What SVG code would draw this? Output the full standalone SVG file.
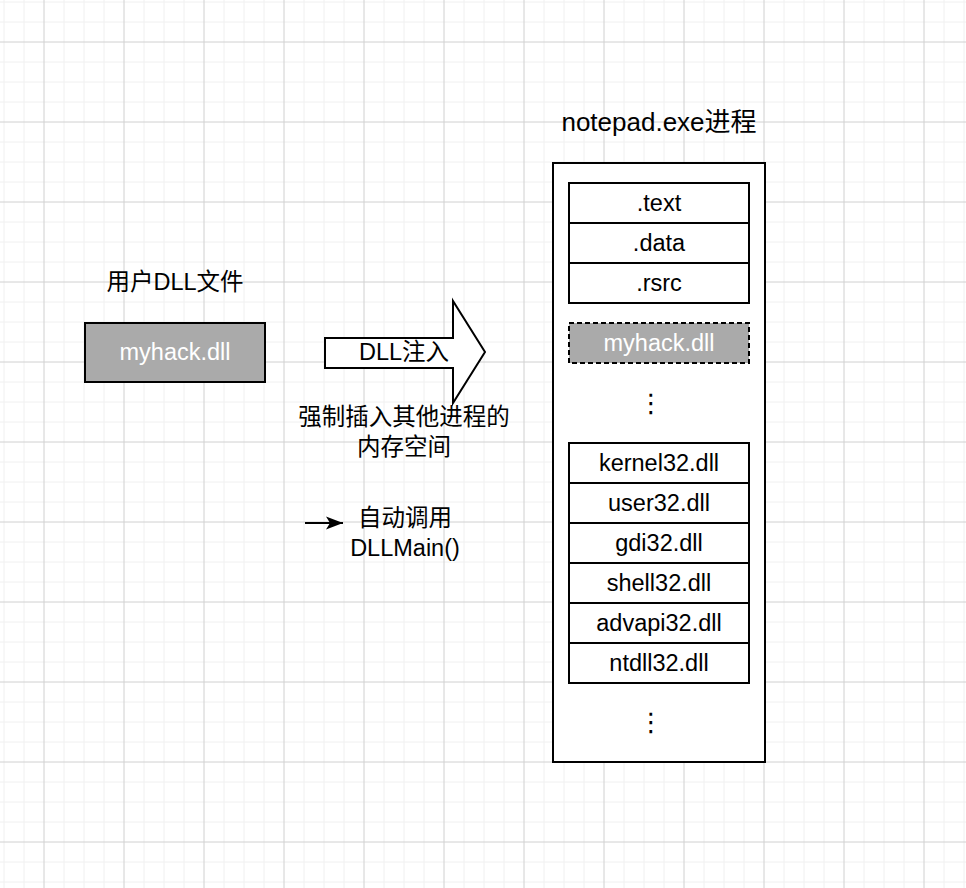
<svg xmlns="http://www.w3.org/2000/svg" width="966" height="888" viewBox="0 0 966 888">
<defs>
  <pattern id="grid" patternUnits="userSpaceOnUse" x="-6" y="-8" width="80" height="80">
    <path d="M10 0V80M30 0V80M70 0V80M0 10H80M0 30H80M0 70H80" stroke="#f0f0f0" stroke-width="1" fill="none"/>
    <path d="M50 0V80M0 50H80" stroke="#d0d0d0" stroke-width="1" fill="none"/>
  </pattern>
  <marker id="arr" viewBox="0 0 18 14" refX="17" refY="7" markerWidth="18" markerHeight="14" markerUnits="userSpaceOnUse" orient="auto">
    <path d="M0 0.5L17 7L0 13.5L4 7Z" fill="#000"/>
  </marker>
  <style>
    text{font-family:"Liberation Sans","Noto Sans CJK SC",sans-serif;font-size:23.5px;fill:#000;text-anchor:middle;dominant-baseline:central}
    .w{fill:#fff}
    .big{font-size:26px}
    .box{fill:#fff;stroke:#000;stroke-width:2}
    .gray{fill:#aaaaaa;stroke:#000;stroke-width:2}
    .dash{fill:#aaaaaa;stroke:#000;stroke-width:2;stroke-dasharray:5 3}
    .dots{font-family:"DejaVu Sans",sans-serif;font-size:26px}
  </style>
</defs>
<rect width="966" height="888" fill="#fff"/>
<rect width="966" height="888" fill="url(#grid)"/>

<g id="user-dll-label"><text x="175" y="282">用户DLL文件</text></g>
<g id="user-dll">
  <rect class="gray" x="85" y="323" width="180" height="59"/>
  <text class="w" x="175" y="352">myhack.dll</text>
</g>

<g id="inject-arrow">
  <path d="M325 338H453V301L485 352L453 403V368H325Z" fill="#fff" stroke="#000" stroke-width="2" stroke-linejoin="miter"/>
  <text x="404" y="352">DLL注入</text>
</g>
<g id="inject-desc">
  <text x="404" y="417">强制插入其他进程的</text>
  <text x="404" y="447">内存空间</text>
</g>

<g id="connectors">
  <line x1="305" y1="523" x2="343" y2="523" stroke="#000" stroke-width="2" marker-end="url(#arr)"/>
</g>
<g id="auto-call">
  <text x="405" y="518">自动调用</text>
  <text x="405" y="548">DLLMain()</text>
</g>

<g id="process-label"><text class="big" x="659" y="122">notepad.exe进程</text></g>
<g id="process">
  <rect class="box" x="553" y="163" width="212" height="599"/>
</g>
<g id="sec-text"><rect class="box" x="569" y="183" width="180" height="40"/><text x="659" y="203">.text</text></g>
<g id="sec-data"><rect class="box" x="569" y="223" width="180" height="40"/><text x="659" y="243">.data</text></g>
<g id="sec-rsrc"><rect class="box" x="569" y="263" width="180" height="40"/><text x="659" y="283">.rsrc</text></g>
<g id="injected-dll"><rect class="dash" x="569" y="323" width="180" height="40"/><text class="w" x="659" y="343">myhack.dll</text></g>
<g id="dots1"><text class="dots" x="651" y="403">⋮</text></g>
<g id="dll-kernel32"><rect class="box" x="569" y="443" width="180" height="40"/><text x="659" y="463">kernel32.dll</text></g>
<g id="dll-user32"><rect class="box" x="569" y="483" width="180" height="40"/><text x="659" y="503">user32.dll</text></g>
<g id="dll-gdi32"><rect class="box" x="569" y="523" width="180" height="40"/><text x="659" y="543">gdi32.dll</text></g>
<g id="dll-shell32"><rect class="box" x="569" y="563" width="180" height="40"/><text x="659" y="583">shell32.dll</text></g>
<g id="dll-advapi32"><rect class="box" x="569" y="603" width="180" height="40"/><text x="659" y="623">advapi32.dll</text></g>
<g id="dll-ntdll32"><rect class="box" x="569" y="643" width="180" height="40"/><text x="659" y="663">ntdll32.dll</text></g>
<g id="dots2"><text class="dots" x="651" y="722">⋮</text></g>
</svg>
